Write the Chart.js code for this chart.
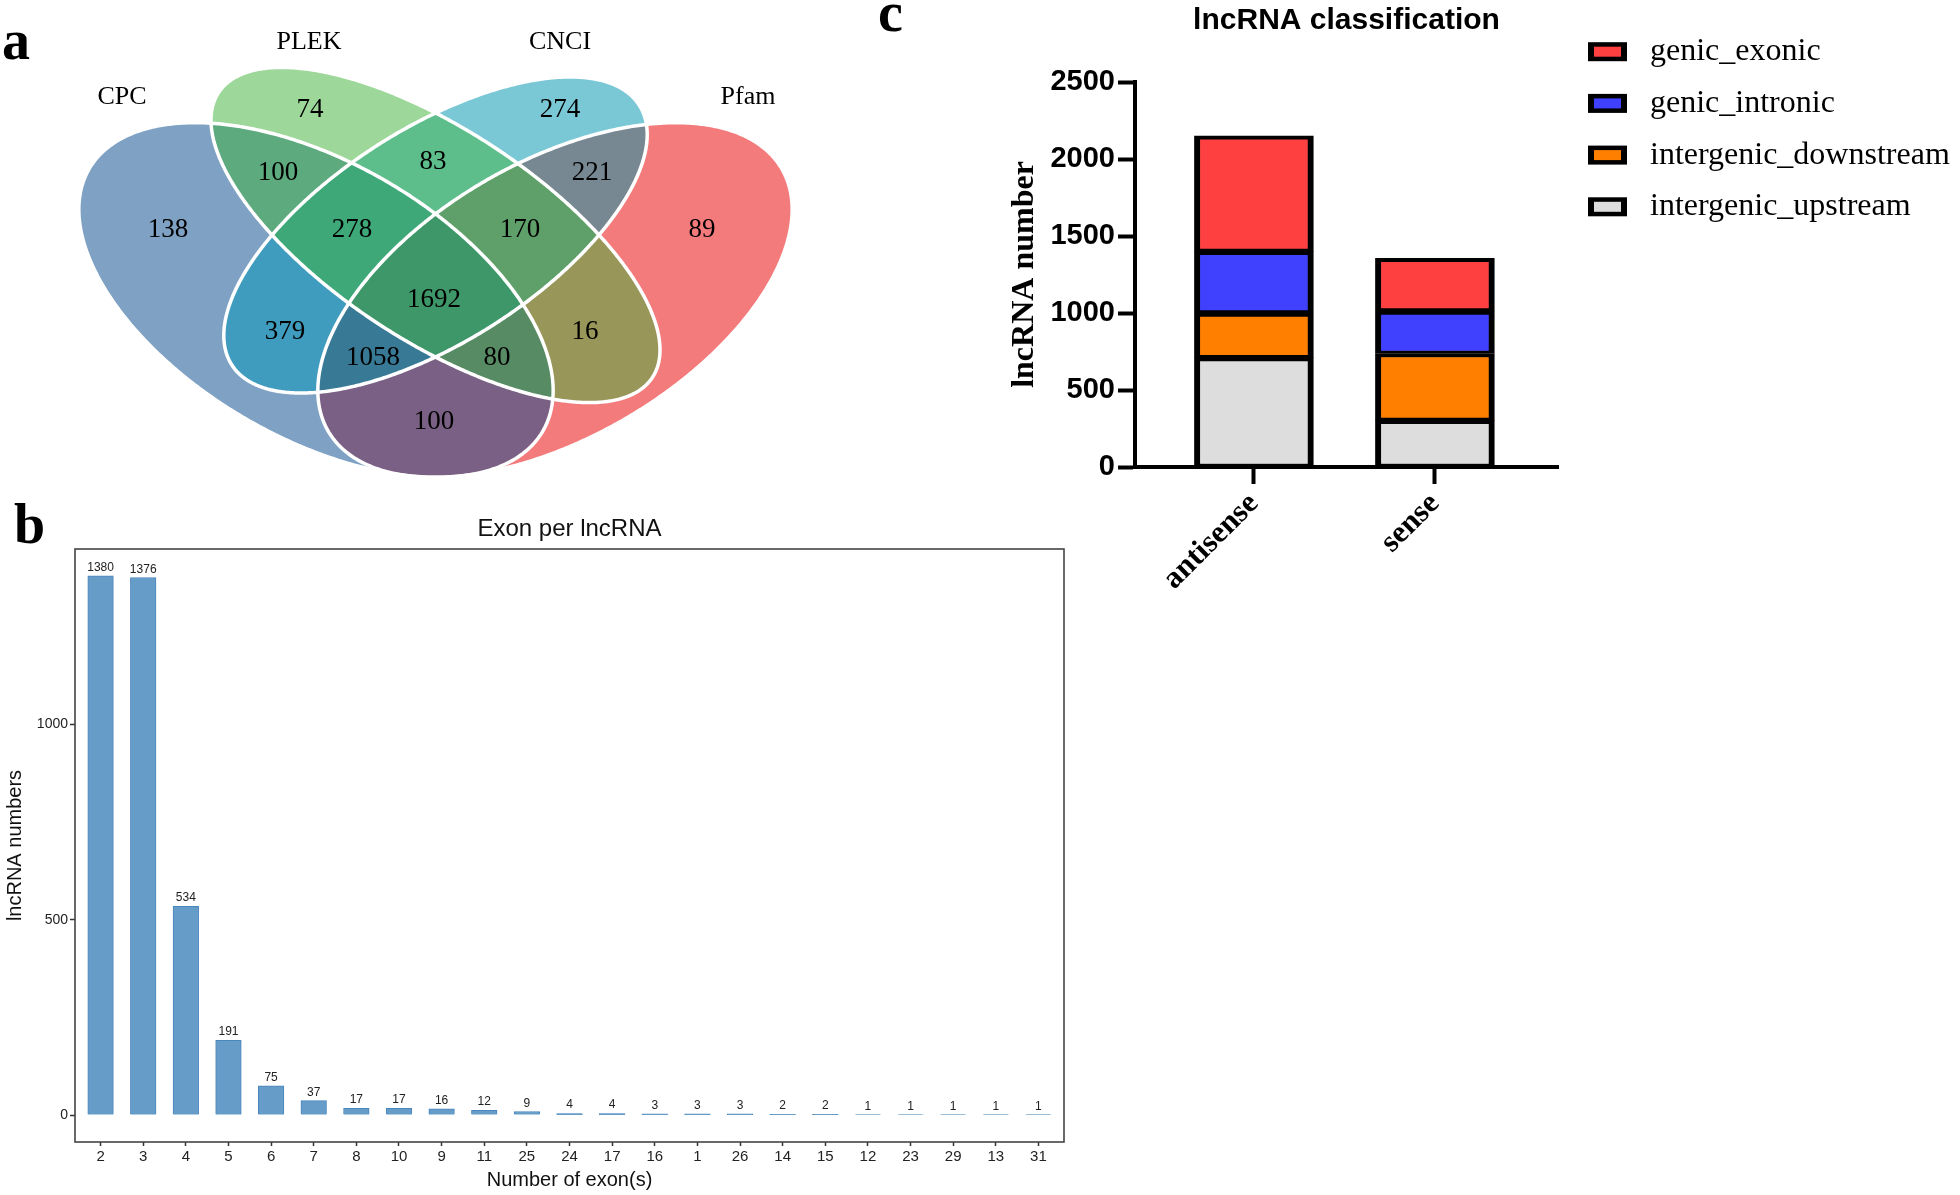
<!DOCTYPE html>
<html><head><meta charset="utf-8">
<script src="https://cdn.jsdelivr.net/npm/chart.js@4.4.0/dist/chart.umd.min.js"></script>
<style>
html,body{margin:0;padding:0;background:#fff;width:1960px;height:1195px;overflow:hidden;position:relative;}
canvas{position:absolute;}
.pl{position:absolute;font-family:'Liberation Serif','Times New Roman',serif;font-weight:bold;font-size:56px;line-height:1;color:#000;}
</style></head><body>
<canvas id="venn" width="820" height="490" style="left:0;top:0"></canvas>
<canvas id="exon" width="1080" height="695" style="left:0;top:500px"></canvas>
<canvas id="cls" width="1080" height="600" style="left:880px;top:0"></canvas>
<div class="pl" style="left:2px;top:12px">a</div>
<div class="pl" style="left:14px;top:496px">b</div>
<div class="pl" style="left:878px;top:-16px">c</div>
<script>
// ---------------- DATA ----------------
// Panel a (Venn)
const vennSetNames = ['CPC', 'PLEK', 'CNCI', 'Pfam'];
const vennRegionSets = [[0],[1],[2],[3],[0,1],[1,2],[2,3],[0,1,2],[1,2,3],[0,1,2,3],[0,2],[1,3],[0,2,3],[0,1,3],[0,3]];
const vennRegionCounts = [138, 74, 274, 89, 100, 83, 221, 278, 170, 1692, 379, 16, 1058, 80, 100];
// Panel b (Exon per lncRNA)
const exonCategories = ['2','3','4','5','6','7','8','10','9','11','25','24','17','16','1','26','14','15','12','23','29','13','31'];
const exonCounts = [1380, 1376, 534, 191, 75, 37, 17, 17, 16, 12, 9, 4, 4, 3, 3, 3, 2, 2, 1, 1, 1, 1, 1];
const exonYTicks = [0, 500, 1000];
// Panel c (lncRNA classification)
const clsCategories = ['antisense', 'sense'];
const clsUpstream = [710, 303];
const clsDownstream = [290, 434];
const clsIntronic = [400, 276];
const clsExonic = [750, 342];
const clsYTicks = [0, 500, 1000, 1500, 2000, 2500];

// ---------------- LAYOUT / STYLE ----------------
const vennEllipses = [
  {cx: 316,   cy: 300, a: 262,   b: 138,   rot: 30},
  {cx: 435.5, cy: 235, a: 259.5, b: 105.6, rot: 33.3},
  {cx: 435.5, cy: 235, a: 241.6, b: 106.9, rot: -32.5},
  {cx: 555,   cy: 300, a: 262,   b: 138,   rot: -30}
];
const vennRegionPos = [[168,230],[310,110],[560,110],[702,230],[278,173],[433,162],[592,173],[352,230],[520,230],[434,300],[285,332],[585,332],[373,358],[497,358],[434,422]];
const vennSetLabelPos = [[122,97],[309,42],[560,42],[748,97]];
const vennRegionColors = ['#7EA1C4','#9DD89A','#7AC8D6','#F47B7B','#5DAA7E','#5DBE8B','#778892','#3EA878','#5FA06A','#3D9769','#409CBE','#989659','#387A96','#578B64','#7A6084'];
const clsColors = ['#DDDDDD', '#FF8000', '#4040FF', '#FF4040'];

Chart.defaults.font.family = "'Liberation Sans', Arial, sans-serif";

// ---------------- PANEL A ----------------
function ellipsePts(e, xs, ys) {
  const pts = [];
  const th = e.rot * Math.PI / 180, c = Math.cos(th), s = Math.sin(th);
  for (let k = 0; k < 720; k++) {
    const t = k * Math.PI / 360;
    const u = e.a * Math.cos(t), v = e.b * Math.sin(t);
    pts.push([xs.getPixelForValue(e.cx + u * c - v * s), ys.getPixelForValue(e.cy + u * s + v * c)]);
  }
  return pts;
}
function tracePts(ctx, pts) {
  ctx.moveTo(pts[0][0], pts[0][1]);
  for (let i = 1; i < pts.length; i++) ctx.lineTo(pts[i][0], pts[i][1]);
  ctx.closePath();
}
const vennPlugin = {
  id: 'venn',
  beforeDatasetsDraw(chart) {
    const {ctx, chartArea: ca} = chart;
    const xs = chart.scales.x, ys = chart.scales.y;
    const shapes = vennEllipses.map(e => ellipsePts(e, xs, ys));
    vennRegionSets.forEach((set, r) => {
      ctx.save();
      for (let i = 0; i < shapes.length; i++) {
        ctx.beginPath();
        if (set.includes(i)) { tracePts(ctx, shapes[i]); ctx.clip(); }
        else { ctx.rect(ca.left - 5, ca.top - 5, ca.width + 10, ca.height + 10); tracePts(ctx, shapes[i]); ctx.clip('evenodd'); }
      }
      ctx.fillStyle = vennRegionColors[r];
      ctx.fillRect(ca.left, ca.top, ca.width, ca.height);
      ctx.restore();
    });
    ctx.save();
    ctx.strokeStyle = '#FFFFFF';
    ctx.lineWidth = 3.5;
    shapes.forEach(p => { ctx.beginPath(); tracePts(ctx, p); ctx.stroke(); });
    ctx.restore();
  },
  afterDatasetsDraw(chart) {
    const {ctx} = chart;
    const xs = chart.scales.x, ys = chart.scales.y;
    ctx.save();
    ctx.fillStyle = '#000';
    ctx.textAlign = 'center';
    ctx.textBaseline = 'middle';
    ctx.font = "27px 'Liberation Serif', 'Times New Roman', serif";
    chart.getDatasetMeta(0).data.forEach((pt, i) => {
      ctx.fillText(String(vennRegionCounts[i]), pt.x, pt.y);
    });
    ctx.font = "26px 'Liberation Serif', 'Times New Roman', serif";
    vennSetNames.forEach((n, i) => {
      ctx.fillText(n, xs.getPixelForValue(vennSetLabelPos[i][0]), ys.getPixelForValue(vennSetLabelPos[i][1]));
    });
    ctx.restore();
  }
};
new Chart(document.getElementById('venn'), {
  type: 'scatter',
  data: { datasets: [{ data: vennRegionPos.map(p => ({x: p[0], y: p[1]})), pointRadius: 0 }] },
  options: {
    responsive: false, animation: false, events: [],
    layout: { padding: 0 },
    scales: {
      x: { type: 'linear', display: false, min: 0, max: 820 },
      y: { type: 'linear', display: false, min: 0, max: 490, reverse: true }
    },
    plugins: { legend: { display: false }, tooltip: { enabled: false } }
  },
  plugins: [vennPlugin]
});

// ---------------- PANEL B ----------------
const framePlugin = {
  id: 'frame',
  beforeDatasetsDraw(chart) {
    const {ctx, chartArea: ca} = chart;
    ctx.save();
    ctx.strokeStyle = '#444';
    ctx.lineWidth = 1.6;
    ctx.strokeRect(ca.left, ca.top, ca.width, ca.height);
    ctx.restore();
  }
};
const barLabelPlugin = {
  id: 'barLabels',
  afterDatasetsDraw(chart) {
    const {ctx} = chart;
    ctx.save();
    ctx.fillStyle = '#222';
    ctx.textAlign = 'center';
    ctx.textBaseline = 'alphabetic';
    ctx.font = "12px 'Liberation Sans', Arial, sans-serif";
    chart.getDatasetMeta(0).data.forEach((bar, i) => {
      ctx.fillText(String(exonCounts[i]), bar.x, Math.min(bar.y, bar.base) - 5);
    });
    ctx.restore();
  }
};
new Chart(document.getElementById('exon'), {
  type: 'bar',
  data: { datasets: [{
    data: exonCounts.map((v, i) => ({x: i, y: v})),
    backgroundColor: '#659CC8', borderColor: '#4A86BE', borderWidth: 1, barThickness: 25.6
  }]},
  options: {
    responsive: false, animation: false, events: [],
    layout: { padding: { left: 0, right: 16, top: 0, bottom: 0 } },
    scales: {
      x: {
        type: 'linear', min: -0.6, max: exonCategories.length - 1 + 0.6, offset: false,
        afterBuildTicks: s => { s.ticks = exonCategories.map((c, i) => ({value: i})); },
        afterFit: s => { s.height = 53; },
        grid: { display: true, drawOnChartArea: false, offset: false, tickLength: 4, tickColor: '#333', tickWidth: 1.5 },
        border: { display: false },
        ticks: { autoSkip: false, maxRotation: 0, minRotation: 0, padding: 2, color: '#222',
                 font: { size: 15 }, callback: v => exonCategories[v] },
        title: { display: true, text: 'Number of exon(s)', color: '#111', font: { size: 20 }, padding: { top: 0, bottom: 3 } }
      },
      y: {
        type: 'linear', min: -69, max: 1449,
        afterBuildTicks: s => { s.ticks = exonYTicks.map(v => ({value: v})); },
        afterFit: s => { s.width = 75; },
        grid: { display: true, drawOnChartArea: false, tickLength: 5, tickColor: '#333', tickWidth: 1.5 },
        border: { display: false },
        ticks: { padding: 2, color: '#222', font: { size: 14 }, callback: v => String(v) },
        title: { display: true, text: 'lncRNA numbers', color: '#111', font: { size: 20 }, padding: { top: 3, bottom: 0 } }
      }
    },
    plugins: {
      legend: { display: false }, tooltip: { enabled: false },
      title: { display: true, text: 'Exon per lncRNA', fullSize: false, color: '#111',
               font: { size: 24, weight: 'normal' }, padding: { top: 14.6, bottom: 5.6 } }
    }
  },
  plugins: [framePlugin, barLabelPlugin]
});

// ---------------- PANEL C ----------------
const clsLegendPlugin = {
  id: 'clsLegend',
  afterDraw(chart) {
    const {ctx, chartArea: ca} = chart;
    const ds = chart.data.datasets.slice().reverse();
    ctx.save();
    ctx.font = "32px 'Liberation Serif', 'Times New Roman', serif";
    ctx.textBaseline = 'middle';
    ctx.textAlign = 'left';
    ds.forEach((d, i) => {
      const y = ca.top - 30.3 + i * 51.7;
      const x = ca.right + 30;
      ctx.fillStyle = '#000';
      ctx.fillRect(x, y - 9.5, 39, 19);
      ctx.fillStyle = d.backgroundColor;
      ctx.fillRect(x + 6, y - 5, 27, 10);
      ctx.fillStyle = '#000';
      ctx.fillText(d.label, x + 62, y);
    });
    ctx.restore();
  }
};
const clsSeriesValues = [clsUpstream, clsDownstream, clsIntronic, clsExonic];
const clsSeriesNames = ['intergenic_upstream', 'intergenic_downstream', 'genic_intronic', 'genic_exonic'];
new Chart(document.getElementById('cls'), {
  type: 'bar',
  data: { datasets: clsSeriesValues.map((vals, k) => ({
    label: clsSeriesNames[k],
    data: vals.map((v, i) => ({x: i, y: v})),
    backgroundColor: clsColors[k],
    borderColor: '#000',
    borderWidth: { top: 4, bottom: 3, left: 6, right: 6 },
    borderSkipped: false,
    barThickness: 119
  }))},
  options: {
    responsive: false, animation: false, events: [],
    layout: { padding: { left: 125.4, right: 402, top: 0, bottom: 0 } },
    scales: {
      x: {
        type: 'linear', stacked: true, min: -0.657, max: 1.68, offset: false,
        afterBuildTicks: s => { s.ticks = clsCategories.map((c, i) => ({value: i})); },
        afterFit: s => { s.height = 133; },
        grid: { display: true, drawOnChartArea: false, offset: false, tickLength: 17, tickWidth: 4, tickColor: '#000' },
        border: { display: true, color: '#000', width: 4 },
        ticks: { autoSkip: false, minRotation: 45, maxRotation: 45, padding: 4, color: '#000',
                 font: { family: "'Liberation Serif', 'Times New Roman', serif", size: 31, weight: 'bold', lineHeight: 1.0 },
                 callback: v => clsCategories[v] }
      },
      y: {
        type: 'linear', stacked: true, min: 0, max: 2500,
        afterBuildTicks: s => { s.ticks = clsYTicks.map(v => ({value: v})); },
        afterFit: s => { s.width = 255 - 125.4; },
        grid: { display: true, drawOnChartArea: false, tickLength: 17, tickWidth: 4, tickColor: '#000' },
        border: { display: true, color: '#000', width: 4 },
        ticks: { padding: 3, color: '#000', font: { size: 29, weight: 'bold' }, callback: v => String(v) },
        title: { display: true, text: 'lncRNA number', color: '#000',
                 font: { family: "'Liberation Serif', 'Times New Roman', serif", size: 32, weight: 'bold' },
                 padding: { top: 0, bottom: 0 } }
      }
    },
    plugins: {
      legend: { display: false }, tooltip: { enabled: false },
      title: { display: true, text: 'lncRNA classification', fullSize: false, color: '#000',
               font: { size: 30, weight: 'bold' }, padding: { top: 3, bottom: 43 } }
    }
  },
  plugins: [clsLegendPlugin]
});
</script>
</body></html>
